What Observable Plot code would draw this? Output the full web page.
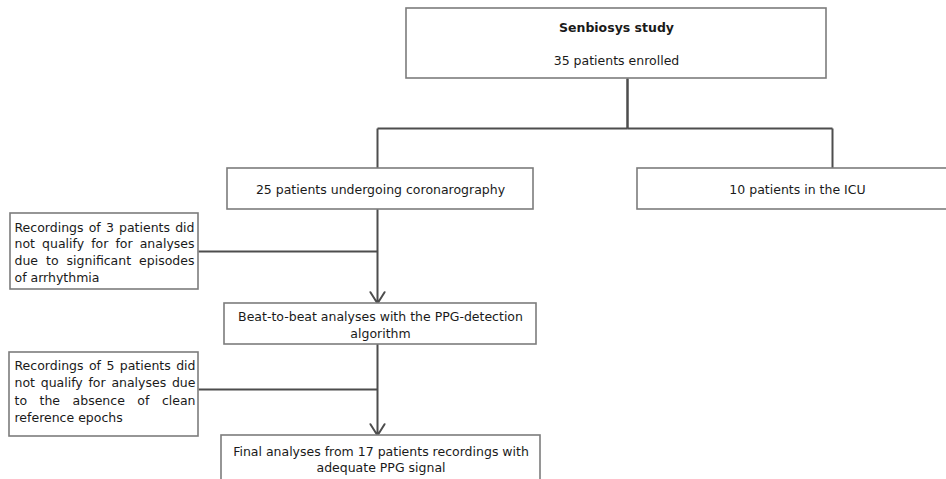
<!DOCTYPE html>
<html><head><meta charset="utf-8">
<script src="https://cdn.jsdelivr.net/npm/d3@7"></script>
<script src="https://cdn.jsdelivr.net/npm/@observablehq/plot@0.6"></script>
<style>body{margin:0;background:#fff} svg{display:block}</style>
</head><body><div id="chart"></div>
<script>
// ---- content ----
const nodeIds = ["study","coro","icu","excl1","beat","excl2","final"];
const nodeText = [
  ["Senbiosys study","35 patients enrolled"],
  ["25 patients undergoing coronarography"],
  ["10 patients in the ICU"],
  ["Recordings of 3 patients did","not qualify for for analyses","due to significant episodes","of arrhythmia"],
  ["Beat-to-beat analyses with the PPG-detection","algorithm"],
  ["Recordings of 5 patients did","not qualify for analyses due","to the absence of clean","reference epochs"],
  ["Final analyses from 17 patients recordings with","adequate PPG signal"]
];
const boldFirstLine = ["study"];
const justifiedNodes = ["excl1","excl2"];
// flow edges: [from, to, kind]
const edges = [
  ["study","coro","split"],
  ["study","icu","split"],
  ["coro","beat","arrow"],
  ["excl1","beat","join"],
  ["beat","final","arrow"],
  ["excl2","final","join"]
];

// ---- layout (diagram units = pixels) ----
const layout = {
  study: {x1:406, x2:826, y1:8,   y2:78,  tx:616, ty:27, lh:33},
  coro:  {x1:227, x2:533, y1:168, y2:209, tx:380, ty:189, lh:16},
  icu:   {x1:637, x2:962, y1:168, y2:209, tx:797, ty:189, lh:16},
  excl1: {x1:10,  x2:198, y1:213, y2:289, tx:14,  ty:227, lh:16.8, jy:251},
  beat:  {x1:224, x2:536, y1:303, y2:344, tx:380, ty:316.5, lh:16.5},
  excl2: {x1:9,   x2:198, y1:352, y2:436, tx:14,  ty:365, lh:17.6, jy:389},
  final: {x1:221, x2:540, y1:435, y2:500, tx:380.5, ty:451, lh:16}
};
const splitY = 128, trunkX = 627, mainX = 377, icuX = 832;

// ---- build tables ----
const boxes = nodeIds.map(id => ({id, ...layout[id]}));
const texts = [];
nodeIds.forEach((id, k) => {
  const L = layout[id];
  nodeText[k].forEach((t, i) => texts.push({
    id, text: t, x: L.tx, y: L.ty + i * L.lh,
    bold: boldFirstLine.includes(id) && i === 0,
    just: justifiedNodes.includes(id),
    last: i === nodeText[k].length - 1,
    width: L.x2 - L.x1 - 8
  }));
});
const segs = [], arrows = [];
for (const [from, to, kind] of edges) {
  const A = layout[from], B = layout[to];
  if (kind === "split") {
    const bx = to === "coro" ? mainX : icuX;
    segs.push({x1: trunkX, y1: A.y2, x2: trunkX, y2: splitY});
    segs.push({x1: Math.min(bx, trunkX), y1: splitY, x2: Math.max(bx, trunkX), y2: splitY});
    segs.push({x1: bx, y1: splitY, x2: bx, y2: B.y1});
  } else if (kind === "arrow") {
    arrows.push({x1: mainX, y1: A.y2, x2: mainX, y2: B.y1});
  } else {
    segs.push({x1: A.x2, y1: A.jy, x2: mainX, y2: A.jy});
  }
}

const font = "DejaVu Sans";
const lineColor = "#4d4d4d";
const textColor = "#1a1a1a";
const fs = 12.5;
const chart = Plot.plot({
  width: 946, height: 479, margin: 0,
  x: {domain: [0, 946], range: [0, 946], axis: null},
  y: {domain: [0, 479], range: [0, 479], axis: null},
  style: {fontFamily: font, background: "#fff"},
  marks: [
    Plot.link(segs, {x1: "x1", y1: "y1", x2: "x2", y2: "y2", stroke: lineColor, strokeWidth: 2}),
    Plot.arrow(arrows, {x1: "x1", y1: "y1", x2: "x2", y2: "y2", stroke: lineColor, strokeWidth: 2, headLength: 10, headAngle: 64}),
    Plot.rect(boxes, {x1: "x1", x2: "x2", y1: "y1", y2: "y2", fill: "white", stroke: "#7c7c7c", strokeWidth: 1.6}),
    Plot.text(texts.filter(d => !d.just && !d.bold), {x: "x", y: "y", text: "text", fill: textColor, fontSize: fs,
      textAnchor: "middle", lineAnchor: "middle"}),
    Plot.text(texts.filter(d => d.bold), {x: "x", y: "y", text: "text", fill: textColor, fontSize: fs,
      fontWeight: "bold", textAnchor: "middle", lineAnchor: "middle"}),
    Plot.text(texts.filter(d => d.just), {x: "x", y: "y", text: "text", fill: textColor, fontSize: fs,
      textAnchor: "start", lineAnchor: "middle"})
  ]
});
document.getElementById("chart").append(chart);

// justify the side-box paragraphs like the reference: spread words across the line
const NS = "http://www.w3.org/2000/svg";
const allText = Array.from(chart.querySelectorAll("text"));
for (const d of texts.filter(d => d.just && !d.last)) {
  const el = allText.find(e => e.textContent === d.text && !e.dataset.done);
  if (!el) continue;
  el.dataset.done = "1";
  const words = d.text.split(" ");
  // measure words
  const widths = words.map(w => {
    const t = document.createElementNS(NS, "text");
    t.setAttribute("font-size", fs);
    t.setAttribute("font-family", font);
    t.textContent = w;
    chart.appendChild(t);
    const len = t.getComputedTextLength();
    t.remove();
    return len;
  });
  const total = widths.reduce((a, b) => a + b, 0);
  const gap = (d.width - total) / (words.length - 1);
  const x0 = +(el.getAttribute("x") || 0);
  // transform on the text places it; tspans are relative to that
  while (el.firstChild) el.removeChild(el.firstChild);
  let cx = 0;
  words.forEach((w, i) => {
    const ts = document.createElementNS(NS, "tspan");
    ts.setAttribute("x", x0 + cx);
    ts.textContent = w;
    el.appendChild(ts);
    cx += widths[i] + gap;
  });
}
</script>
</body></html>
